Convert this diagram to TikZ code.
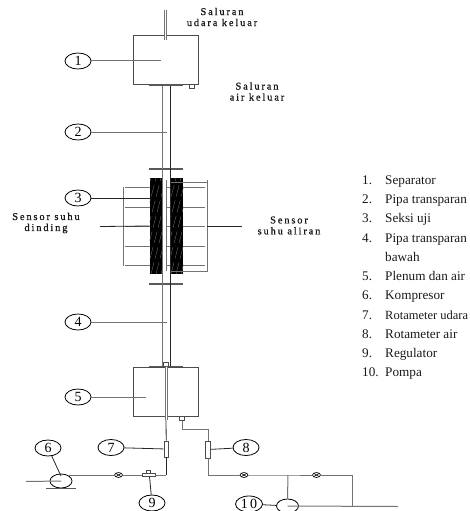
\documentclass[tikz,border=0pt]{standalone}
\usepackage{fontspec}
\setmainfont{Liberation Serif}
\newfontfamily\spacedfont[LetterSpace=18,FakeBold=0.8]{Liberation Serif}
\usetikzlibrary{shapes.geometric}
\definecolor{pipegray}{gray}{0.45}
\definecolor{textgray}{gray}{0.1}
\tikzset{
  callout/.style={draw, ellipse, inner sep=0pt, minimum width=26pt, minimum height=16pt, line width=0.8pt, font=\fontsize{14}{14}\selectfont},
  vessel/.style={draw=black!70, line width=1pt, inner sep=0pt},
  plate/.style={draw=none, fill=black!65, inner sep=0pt},
  meter/.style={draw=black!70, fill=white, line width=0.8pt, inner sep=0pt, minimum width=4.5pt, minimum height=16pt},
  valve/.style={draw, ellipse, fill=white, inner sep=0pt, minimum width=8pt, minimum height=5pt, line width=0.6pt,
    path picture={\draw[line width=0.6pt] (path picture bounding box.north west) -- (path picture bounding box.south east)
      (path picture bounding box.south west) -- (path picture bounding box.north east);}},
  pipe/.style={pipegray, line width=1pt},
  wire/.style={black!85, line width=0.8pt},
  spaced/.style={align=center, font=\fontsize{10.4}{11}\spacedfont, text=textgray},
  legend/.style={anchor=base west, inner sep=0pt, text=textgray, font=\fontsize{13.2}{13.2}\selectfont}
}
\begin{document}
\begin{tikzpicture}[x=1pt,y=-1pt]
\useasboundingbox (0,0) rectangle (470,511);

% separator
\node[vessel, minimum width=64.5, minimum height=48] (sep) at (166.2,60) {};
\node[plate, minimum width=33.5, minimum height=2.5] (septop) at (166.2,85.2) {};
\node[vessel, line width=0.6pt, minimum width=5.5, minimum height=4] (sepout) at (192,86) {};
\coordinate (airtop) at (165.5,10);
\coordinate (airend) at (165.5,40);
\draw[pipe, line width=2.6pt] (airtop) -- (airend);
\draw[white, line width=0.8pt] (airtop) -- (airend);

% test section
\node[draw=none, fill=black, inner sep=0pt, minimum width=12.5, minimum height=96] (blockl) at (156,226) {};
\node[draw=none, fill=black, inner sep=0pt, minimum width=12.5, minimum height=96] (blockr) at (177,226) {};
\begin{scope}
\clip (blockl.south west) rectangle (blockl.north east) (blockr.south west) rectangle (blockr.north east);
\foreach \xa in {126,131,...,190} {
  \draw[black!45, line width=0.25pt, dash pattern=on 12pt off 4pt] (\xa,274) -- (\xa+25,178);
}
\end{scope}
\node[plate, minimum width=33.5, minimum height=2] (flangetop) at (166.2,168.8) {};
\node[plate, minimum width=33.5, minimum height=2] (flangebot) at (166.2,284.3) {};

% wall and flow sensors
\coordinate (wallt) at (123.5,187);
\coordinate (wallb) at (123.5,266);
\coordinate (flowt) at (207,180);
\coordinate (flowb) at (207,272);
\coordinate (innert) at (166.5,180);
\coordinate (innerb) at (166.5,271);
\draw[pipe] (wallt) -- (wallb);
\draw[pipe] (flowt) -- (flowb);
\draw[pipe, line width=0.7pt] (innert) -- (innerb);
\foreach \ya in {187,207,226.5,246,265.5} {
  \draw[pipe] (125,\ya) -- (150,\ya);
  \draw[pipe] (166.5,\ya) -- (171,\ya);
  \draw[pipe] (183,\ya) -- (205,\ya);
}
\draw[pipe] (171,182) -- (207,182);
\draw[pipe] (171,271.5) -- (207,271.5);
\coordinate (wallend) at (100,226.5);
\coordinate (flowend) at (242,226.5);
\draw[wire] (wallend) -- (blockl.west);
\draw[wire] (flowt |- flowend) -- (flowend);

% main pipes
\coordinate (pipelt) at (162,86);
\coordinate (pipelb) at (162,367);
\coordinate (pipert) at (170.5,86);
\coordinate (piperb) at (170.5,367);
\draw[pipe] (pipelt) -- (pipelb);
\draw[wire] (pipert) -- (piperb);

% plenum
\node[vessel, minimum width=64.5, minimum height=49] (plenum) at (166.2,391.5) {};
\node[plate, minimum width=33.5, minimum height=1] (plentop) at (166.2,366.8) {};
\node[vessel, line width=0.6pt, minimum width=5, minimum height=4.5] (plenout) at (182,418.2) {};
\node[vessel, line width=0.6pt, minimum width=4.5, minimum height=5] (tubetop) at (166,364.5) {};
\coordinate (tubeend) at (166,420);
\draw[pipe, line width=3pt] (tubetop.south) -- (tubeend);
\draw[white, line width=0.5pt] (tubetop.south) -- (tubeend);

% air line
\node[meter] (rotair) at (166.3,449) {};
\node[draw=black!70, fill=white, line width=0.6pt, inner sep=0pt, minimum width=13, minimum height=3] (reg) at (148.5,475) {};
\node[draw=black!70, fill=white, line width=0.6pt, inner sep=0pt, minimum width=4.5, minimum height=3] (regtop) at (148.5,471.8) {};
\node[draw, ellipse, fill=white, line width=0.8pt, inner sep=0pt, minimum width=22, minimum height=14] (comp) at (61,481) {};
\node[plate, minimum width=30, minimum height=1.5] (compbase) at (61,488.7) {};
\node[valve] (valvea) at (118.5,475) {};
\coordinate (aircorner) at (166.3,475);
\coordinate (inlet) at (26,481.5);
\draw[wire] (tubeend) -- (rotair);
\draw[wire] (rotair) -- (aircorner);
\draw[pipe] (aircorner) -- (reg);
\draw[pipe] (reg) -- (valvea);
\draw[pipe] (valvea) -- (comp.north east |- valvea);
\draw[pipe] (inlet) -- (comp.center);

% water line
\node[meter, minimum height=17] (rotwater) at (208,449.5) {};
\node[valve] (valveb) at (244,475) {};
\node[valve] (valvec) at (316.5,475) {};
\node[draw, ellipse, fill=white, line width=0.8pt, inner sep=0pt, minimum width=22, minimum height=14] (pump) at (287.5,506) {};
\coordinate (wata) at (182,429);
\coordinate (watb) at (208,429);
\coordinate (watc) at (208,475);
\coordinate (watd) at (288,475);
\coordinate (wate) at (352.7,475);
\coordinate (watf) at (352.7,506.5);
\coordinate (watout) at (398,506.5);
\draw[pipe] (plenout) -- (wata) -- (watb) -- (rotwater);
\draw[pipe] (rotwater) -- (watc) -- (valveb);
\draw[pipe] (valveb) -- (watd) -- (valvec);
\draw[pipe] (valvec) -- (wate) -- (watf);
\draw[pipe] (watd) -- (pump.north);
\draw[pipe] (pump.center) -- (watout);

% numbered callouts
\node[callout] (c1) at (78,61) {1};
\node[callout] (c2) at (78,132) {2};
\node[callout] (c3) at (78,198) {3};
\node[callout] (c4) at (78,322) {4};
\node[callout] (c5) at (78,397) {5};
\node[callout] (c6) at (48,448) {6};
\node[callout] (c7) at (111,447.5) {7};
\node[callout] (c8) at (246,447.5) {8};
\node[callout] (c9) at (152,503) {9};
\node[callout, minimum width=27] (c10) at (249,504) {1\,0};
\coordinate (c1end) at (161,61);
\coordinate (c2end) at (167,132);
\coordinate (c3end) at (150,198);
\coordinate (c4end) at (167,322);
\coordinate (c5end) at (146,397);
\coordinate (c6end) at (61,476);
\coordinate (c9end) at (149.5,476.5);
\draw[pipe] (c1) -- (c1end);
\draw[pipe] (c2) -- (c2end);
\draw[wire] (c3) -- (c3end);
\draw[pipe] (c4) -- (c4end);
\draw[pipe] (c5) -- (c5end);
\draw[wire] (c6) -- (c6end);
\draw[wire] (c7) -- (rotair);
\draw[wire] (c8) -- (rotwater);
\draw[wire] (c9) -- (c9end);
\draw[wire] (c10) -- (pump);

% labels
\node[spaced] (lblair) at (222,17) {Saluran\\udara keluar};
\node[spaced] (lblwater) at (257,91.5) {Saluran\\air keluar};
\node[spaced] (lblwall) at (46,223) {Sensor suhu\\dinding};
\node[spaced] (lblflow) at (289,225.5) {Sensor\\suhu aliran};

% legend
\foreach \num/\ya/\txt in {1./184/Separator, 2./203.3/Pipa transparan, 3./222.7/Seksi uji, 4./242.3/Pipa transparan, 5./280.3/Plenum dan air, 6./299.7/Kompresor, 7./319/{\fontsize{12.5}{12.5}\selectfont Rotameter udara}, 8./338/Rotameter air, 9./357.3/Regulator, 10./376.3/Pompa} {
  \node[legend] at (362,\ya) {\num};
  \node[legend] at (385,\ya) {\txt};
}
\node[legend] (lblbawah) at (385,261.3) {bawah};
\end{tikzpicture}
\end{document}
